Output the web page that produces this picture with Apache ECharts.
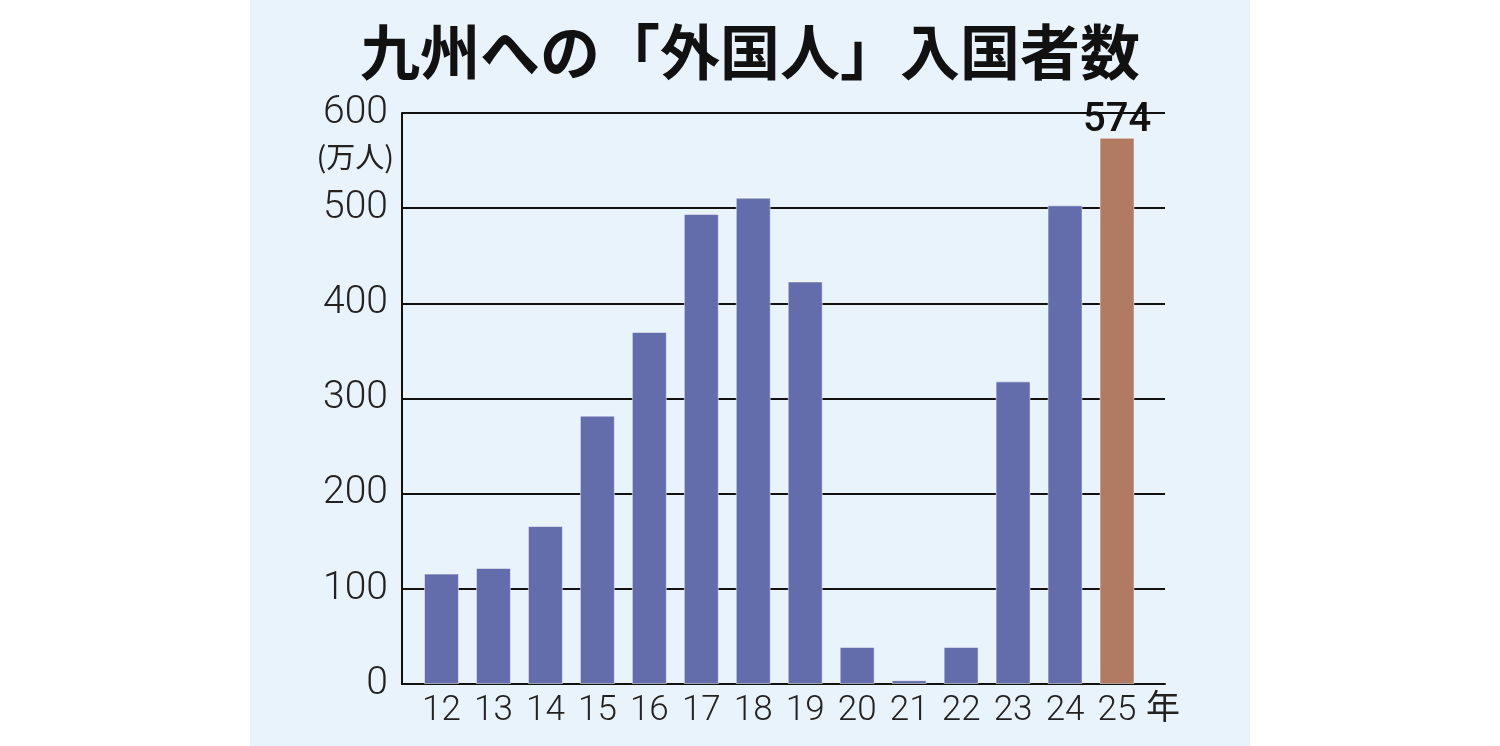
<!DOCTYPE html>
<html>
<head>
<meta charset="utf-8">
<script src="https://cdn.jsdelivr.net/npm/echarts@6/dist/echarts.min.js"></script>
<style>
  html, body { margin: 0; padding: 0; background: #fff; }
  #chart { width: 1500px; height: 746px; }
</style>
</head>
<body>
<div id="chart"></div>
<script>
// 年（2012〜2025）
const years = ['12', '13', '14', '15', '16', '17', '18', '19', '20', '21', '22', '23', '24', '25']
// 入国者数（万人）
const visitors = [116, 122, 166, 282, 370, 494, 511, 423, 39, 4, 39, 318, 503, 574]
const yTicks = [0, 100, 200, 300, 400, 500, 600]

const blue = '#646dac'
const brown = '#b07a63'
const jp = '"Noto Sans CJK JP", sans-serif'

const chart = echarts.init(document.getElementById('chart'))

const barData = visitors.map((v, i) => {
  const last = i === visitors.length - 1
  return {
    value: v,
    itemStyle: { color: last ? brown : blue },
    label: last ? {
      show: true,
      position: 'top',
      distance: -3,
      fontSize: 40,
      fontWeight: 500,
      fontFamily: 'Roboto, sans-serif',
      color: '#111'
    } : { show: false }
  }
})

const option = {
  animation: false,
  backgroundColor: '#fff',
  graphic: [
    {
      type: 'rect',
      z: -10,
      shape: { x: 250, y: 0, width: 1000, height: 746 },
      style: { fill: '#e9f3fc' }
    },
    {
      type: 'text',
      left: 'center',
      top: 22,
      style: {
        text: '九州への「外国人」入国者数',
        font: 'bold 60px ' + jp,
        fill: '#111'
      }
    },
    {
      type: 'text',
      right: 1500 - 394,
      top: 142,
      style: {
        text: '(万人)',
        font: '29px ' + jp,
        fill: '#222'
      }
    },
    {
      type: 'text',
      left: 1146,
      top: 689,
      style: {
        text: '年',
        font: '34px ' + jp,
        fill: '#222'
      }
    }
  ],
  grid: [
    { left: 402, right: 335, top: 113, bottom: 62 },
    { left: 415.5, right: 357, top: 113, bottom: 62 }
  ],
  xAxis: [
    {
      gridIndex: 0,
      type: 'value',
      min: 0,
      max: 1,
      axisLine: { show: true, onZero: false, lineStyle: { color: '#111', width: 2 } },
      axisTick: { show: false },
      axisLabel: { show: false },
      splitLine: { show: false }
    },
    {
      gridIndex: 1,
      type: 'category',
      data: years,
      axisLine: { show: false },
      axisTick: { show: false },
      axisLabel: {
        margin: 10,
        fontSize: 35,
        fontFamily: 'Roboto, sans-serif',
        fontWeight: 300,
        color: '#222'
      }
    }
  ],
  yAxis: [
    {
      gridIndex: 0,
      type: 'value',
      min: 0,
      max: 600,
      interval: 100,
      axisLine: { show: true, lineStyle: { color: '#111', width: 2 } },
      axisTick: { show: false },
      axisLabel: {
        margin: 14,
        fontSize: 39,
        fontFamily: 'Roboto, sans-serif',
        fontWeight: 300,
        color: '#222',
        padding: [10, 0, 0, 0],
        formatter: v => yTicks.includes(v) ? String(v) : ''
      },
      splitLine: { show: true, lineStyle: { color: '#111', width: 2 } }
    },
    {
      gridIndex: 1,
      type: 'value',
      min: 0,
      max: 600,
      show: false,
      splitLine: { show: false }
    }
  ],
  series: [
    {
      type: 'bar',
      xAxisIndex: 1,
      yAxisIndex: 1,
      barWidth: 35,
      z: 3,
      data: barData,
      itemStyle: { borderColor: 'rgba(255,255,255,0.5)', borderWidth: 1 }
    }
  ]
}

chart.setOption(option)
</script>
</body>
</html>
